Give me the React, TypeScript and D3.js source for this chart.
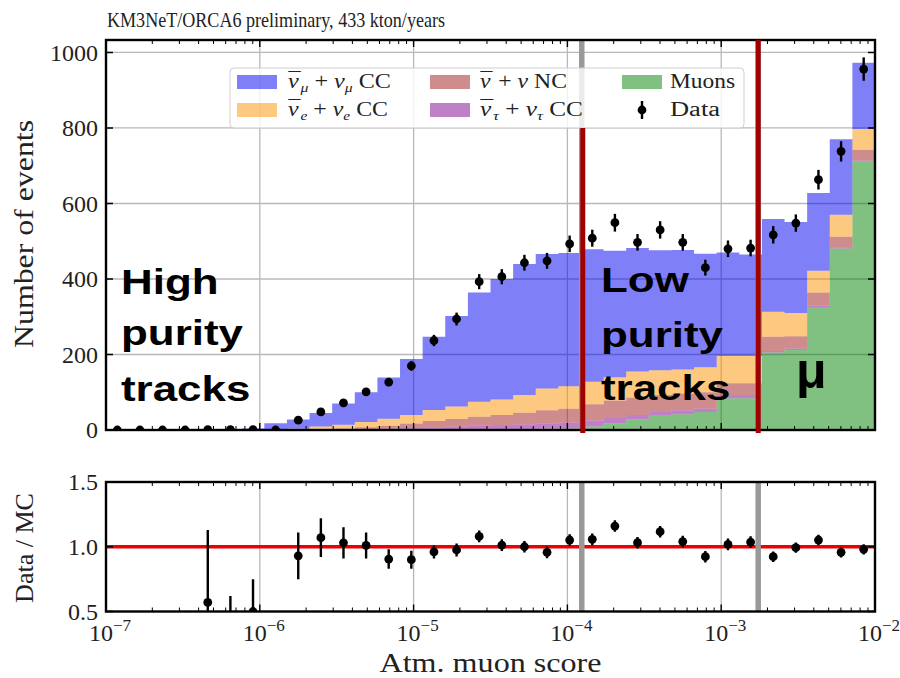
import React, { useEffect, useRef } from "react";
import * as d3 from "d3";

// 34 log-spaced bins of the atm. muon score between 1e-7 and 1e-2
const scoreMin = 1e-7;
const scoreMax = 1e-2;
const nBins = 34;

// MC expectation per bin, one array per component (stacked bottom -> top)
const muons = [0, 0, 0, 0, 0, 0, 0, 0, 0, 0, 0, 0, 0, 0, 0, 0, 0, 1, 2, 3, 4, 9, 18, 28, 38, 42, 48, 84, 84, 205, 212, 326, 481, 711];
const nutauCC = [0, 0, 0, 0, 0, 0, 0.05, 0.1, 0.3, 0.5, 1, 2, 3, 5, 7, 9, 11, 12, 13, 14, 16, 16, 14, 12, 10, 10, 9, 9, 9, 4, 4, 4, 3, 3];
const nuNC = [0, 0, 0, 0, 0, 0.05, 0.05, 0.2, 0.7, 1.5, 3, 5, 8, 12, 17, 20, 24, 27, 31, 35, 36, 43, 46, 46, 45, 45, 43, 31, 31, 38, 32, 34, 28, 28];
const nueCC = [0, 0, 0, 0, 0.1, 0.15, 0.4, 1.2, 2, 7, 10, 14, 19, 23, 29, 33, 40, 41, 47, 58, 60, 60, 62, 69, 65, 63, 66, 72, 72, 66, 62, 58, 58, 55];
const numuCC = [0.3, 0.4, 0.5, 0.8, 1.65, 2.3, 3.5, 16.5, 25, 36, 56, 79, 109, 148, 194, 240, 289, 319, 347, 356, 353, 351, 335, 327, 318, 317, 301, 274, 269, 246, 241, 206, 200, 176];

// observed events
const dataCounts = [0, 0, 0, 0, 1, 1, 1, 0, 26, 48, 72, 101, 127, 170, 237, 294, 393, 406, 443, 448, 493, 508, 549, 497, 530, 497, 430, 480, 482, 517, 548, 663, 738, 956];
const dataErrors = [0, 0, 0, 0, 1, 1, 1, 0, 5, 7, 8.5, 10, 11, 13, 15, 17, 20, 20, 21, 21, 22, 22.5, 23.5, 22, 23, 22, 21, 22, 22, 23, 23, 26, 27, 31];

// data / MC
const ratioValues = [null, null, null, null, 0.57, 0.4, 0.5, null, 0.93, 1.07, 1.03, 1.01, 0.905, 0.9, 0.96, 0.975, 1.08, 1.013, 1.0, 0.957, 1.052, 1.057, 1.16, 1.031, 1.116, 1.04, 0.923, 1.018, 1.036, 0.923, 0.993, 1.052, 0.957, 0.98];
const ratioErrors = [0, 0, 0, 0, 0.56, 0.22, 0.25, 0, 0.18, 0.15, 0.12, 0.1, 0.075, 0.07, 0.05, 0.05, 0.045, 0.045, 0.045, 0.045, 0.045, 0.045, 0.045, 0.045, 0.045, 0.045, 0.045, 0.045, 0.045, 0.04, 0.04, 0.04, 0.04, 0.04];

// cut values (grey lines) and tick values
const cutValues = [1.24e-4, 1.74e-3];
const xDecades = [-7, -6, -5, -4, -3, -2];
const yTicksTop = [0, 200, 400, 600, 800, 1000];
const yTicksRatio = [0.5, 1.0, 1.5];

const serif = "'Liberation Serif', 'Times New Roman', serif";
const sans = "'Liberation Sans', Arial, sans-serif";

export default function App() {
  const ref = useRef<SVGSVGElement>(null);

  useEffect(() => {
    const svg = d3.select(ref.current);
    svg.selectAll("*").remove();

    const left = 106, right = 875;
    const top = 40, bottom = 430;
    const rTop = 482, rBottom = 611.5;

    const x = d3.scaleLog().domain([scoreMin, scoreMax]).range([left, right]);
    const y = d3.scaleLinear().domain([0, 1033]).range([bottom, top]);
    const yr = d3.scaleLinear().domain([0.5, 1.5]).range([rBottom, rTop]);

    const edges = d3.range(nBins + 1).map(i => scoreMin * Math.pow(scoreMax / scoreMin, i / nBins));
    const centers = d3.range(nBins).map(i => Math.sqrt(edges[i] * edges[i + 1]));

    const defs = svg.append("defs");
    defs.append("clipPath").attr("id", "clipTop").append("rect")
      .attr("x", left).attr("y", top).attr("width", right - left).attr("height", bottom - top);
    defs.append("clipPath").attr("id", "clipRatio").append("rect")
      .attr("x", left).attr("y", rTop).attr("width", right - left).attr("height", rBottom - rTop);

    const minorTicks: number[] = [];
    xDecades.slice(0, -1).forEach(e => {
      for (let k = 2; k <= 9; k++) minorTicks.push(k * Math.pow(10, e));
    });
    const majorTicks = xDecades.map(e => Math.pow(10, e));

    // ---------- top panel ----------
    const gTop = svg.append("g");

    // grid
    gTop.selectAll(".vgrid").data(majorTicks.slice(1, -1)).join("line")
      .attr("x1", d => x(d)).attr("x2", d => x(d)).attr("y1", top).attr("y2", bottom)
      .attr("stroke", "#b8b8b8").attr("stroke-width", 1.3);
    gTop.selectAll(".hgrid").data(yTicksTop.slice(1)).join("line")
      .attr("x1", left).attr("x2", right).attr("y1", d => y(d)).attr("y2", d => y(d))
      .attr("stroke", "#b8b8b8").attr("stroke-width", 1.3);

    // stacked MC
    const keys = ["muons", "nutau", "nc", "nue", "numu"];
    const colors: Record<string, string> = {
      muons: "#018101", nutau: "#810191", nc: "#9f1919", nue: "#fb9100", numu: "#0000ef",
    };
    const rows = d3.range(nBins).map(i => ({
      muons: muons[i], nutau: nutauCC[i], nc: nuNC[i], nue: nueCC[i], numu: numuCC[i],
    }));
    const series = d3.stack<any>().keys(keys)(rows);
    const area = d3.area<any>()
      .curve(d3.curveStepAfter)
      .x(d => x(d.e))
      .y0(d => y(d.s[0]))
      .y1(d => y(d.s[1]));
    const gStack = gTop.append("g").attr("clip-path", "url(#clipTop)");
    series.forEach(s => {
      const pts = d3.range(nBins + 1).map(i => ({ e: edges[i], s: s[Math.min(i, nBins - 1)] }));
      gStack.append("path").attr("d", area(pts) as string)
        .attr("fill", colors[s.key]).attr("fill-opacity", 0.5);
    });

    // grey cut lines
    gTop.selectAll(".cut").data(cutValues).join("line")
      .attr("x1", d => x(d)).attr("x2", d => x(d)).attr("y1", top).attr("y2", bottom)
      .attr("stroke", "#999").attr("stroke-width", 5.5);

    // data points
    const gData = gTop.append("g").attr("clip-path", "url(#clipTop)");
    gData.selectAll(".err").data(d3.range(nBins)).join("line")
      .attr("x1", i => x(centers[i])).attr("x2", i => x(centers[i]))
      .attr("y1", i => y(dataCounts[i] - dataErrors[i])).attr("y2", i => y(dataCounts[i] + dataErrors[i]))
      .attr("stroke", "#000").attr("stroke-width", 2.4);
    gData.selectAll(".pt").data(d3.range(nBins)).join("circle")
      .attr("cx", i => x(centers[i])).attr("cy", i => y(dataCounts[i]))
      .attr("r", 4.4).attr("fill", "#000");

    // legend
    const lg = gTop.append("g");
    lg.append("rect").attr("x", 230).attr("y", 68).attr("width", 514).attr("height", 60).attr("rx", 4)
      .attr("fill", "#fff").attr("fill-opacity", 0.8).attr("stroke", "#cfcfcf").attr("stroke-width", 1);

    // legend labels: "b" = nu with a bar, "i" = italic, "sub" = italic subscript, "r" = roman
    const mathText = (xx: number, yy: number, parts: [string, string][], len: number) => {
      const t = lg.append("text").attr("x", xx).attr("y", yy)
        .attr("font-family", serif).attr("font-size", 20).attr("fill", "#222")
        .attr("textLength", len).attr("lengthAdjust", "spacingAndGlyphs");
      let shift = 0;
      parts.forEach(([str, st]) => {
        const sp = t.append("tspan").text(str);
        if (st === "i" || st === "b" || st === "sub") sp.attr("font-style", "italic");
        if (st === "sub") {
          sp.attr("font-size", 13).attr("dy", 4 - shift);
          shift = 4;
        } else if (shift !== 0) {
          sp.attr("dy", -shift);
          shift = 0;
        }
        if (st === "b") {
          // bar over the nu
          t.append("tspan").attr("dx", -8.5).attr("dy", -1).attr("font-style", "normal").text("\u00AF");
          shift -= 1;
          t.append("tspan").attr("dx", 2).text("");
        }
      });
    };
    const legendItems = [
      { key: "numu", px: 237, py: 82, tx: 288, len: 103, parts: [["ν", "b"], ["μ", "sub"], [" + ", "r"], ["ν", "i"], ["μ", "sub"], [" CC", "r"]] },
      { key: "nue", px: 237, py: 110, tx: 288, len: 100, parts: [["ν", "b"], ["e", "sub"], [" + ", "r"], ["ν", "i"], ["e", "sub"], [" CC", "r"]] },
      { key: "nc", px: 430, py: 82, tx: 480, len: 87, parts: [["ν", "b"], [" + ", "r"], ["ν", "i"], [" NC", "r"]] },
      { key: "nutau", px: 430, py: 110, tx: 480, len: 103, parts: [["ν", "b"], ["τ", "sub"], [" + ", "r"], ["ν", "i"], ["τ", "sub"], [" CC", "r"]] },
      { key: "muons", px: 622, py: 82, tx: 670, len: 65, parts: [["Muons", "r"]] },
    ];
    legendItems.forEach(it => {
      lg.append("rect").attr("x", it.px).attr("y", it.py - 7).attr("width", 40).attr("height", 14)
        .attr("fill", colors[it.key]).attr("fill-opacity", 0.5);
      mathText(it.tx, it.py + 6, it.parts as [string, string][], it.len);
    });
    lg.append("line").attr("x1", 642).attr("x2", 642).attr("y1", 101).attr("y2", 119)
      .attr("stroke", "#000").attr("stroke-width", 2.4);
    lg.append("circle").attr("cx", 642).attr("cy", 110).attr("r", 4.4).attr("fill", "#000");
    mathText(670, 116, [["Data", "r"]], 50);

    // ---------- ratio panel ----------
    const gR = svg.append("g");
    gR.selectAll(".vgrid").data(majorTicks.slice(1, -1)).join("line")
      .attr("x1", d => x(d)).attr("x2", d => x(d)).attr("y1", rTop).attr("y2", rBottom)
      .attr("stroke", "#b8b8b8").attr("stroke-width", 1.3);
    gR.append("line").attr("x1", left).attr("x2", right).attr("y1", yr(1)).attr("y2", yr(1))
      .attr("stroke", "#ee0000").attr("stroke-width", 3.5);
    gR.selectAll(".cut").data(cutValues).join("line")
      .attr("x1", d => x(d)).attr("x2", d => x(d)).attr("y1", rTop).attr("y2", rBottom)
      .attr("stroke", "#999").attr("stroke-width", 5.5);
    const rIdx = d3.range(nBins).filter(i => ratioValues[i] !== null);
    const gRD = gR.append("g").attr("clip-path", "url(#clipRatio)");
    gRD.selectAll(".err").data(rIdx).join("line")
      .attr("x1", i => x(centers[i])).attr("x2", i => x(centers[i]))
      .attr("y1", i => yr((ratioValues[i] as number) - ratioErrors[i]))
      .attr("y2", i => yr((ratioValues[i] as number) + ratioErrors[i]))
      .attr("stroke", "#000").attr("stroke-width", 2.4);
    gRD.selectAll(".pt").data(rIdx).join("circle")
      .attr("cx", i => x(centers[i])).attr("cy", i => yr(ratioValues[i] as number))
      .attr("r", 4.4).attr("fill", "#000");

    // ---------- frames and ticks ----------
    const drawFrame = (g: any, y0: number, y1: number, yTicks: number[], ys: (v: number) => number) => {
      g.selectAll(".mj").data(majorTicks).join("path")
        .attr("d", (d: number) => `M${x(d)},${y1}v-7M${x(d)},${y0}v7`)
        .attr("stroke", "#000").attr("stroke-width", 1.4);
      g.selectAll(".mn").data(minorTicks).join("path")
        .attr("d", (d: number) => `M${x(d)},${y1}v-4M${x(d)},${y0}v4`)
        .attr("stroke", "#000").attr("stroke-width", 1);
      g.selectAll(".yt").data(yTicks).join("path")
        .attr("d", (d: number) => `M${left},${ys(d)}h7M${right},${ys(d)}h-7`)
        .attr("stroke", "#000").attr("stroke-width", 1.4);
      g.append("rect").attr("x", left).attr("y", y0).attr("width", right - left).attr("height", y1 - y0)
        .attr("fill", "none").attr("stroke", "#000").attr("stroke-width", 2.4);
    };
    drawFrame(svg.append("g"), top, bottom, yTicksTop, y);
    drawFrame(svg.append("g"), rTop, rBottom, yTicksRatio, yr);

    // tick labels
    svg.append("g").selectAll("text").data(yTicksTop).join("text")
      .attr("x", 98).attr("y", d => y(d)).attr("dy", "0.35em").attr("text-anchor", "end")
      .attr("font-family", serif).attr("font-size", 24).attr("fill", "#222")
      .text(d => String(d));
    svg.append("g").selectAll("text").data(yTicksRatio).join("text")
      .attr("x", 98).attr("y", d => yr(d)).attr("dy", "0.35em").attr("text-anchor", "end")
      .attr("font-family", serif).attr("font-size", 24).attr("fill", "#222")
      .text(d => d.toFixed(1));
    const xl = svg.append("g").selectAll("text").data(xDecades).join("text")
      .attr("x", d => x(Math.pow(10, d)) + 4).attr("y", 641).attr("text-anchor", "middle")
      .attr("font-family", serif).attr("font-size", 24).attr("fill", "#222");
    xl.append("tspan").text("10");
    xl.append("tspan").attr("dy", -10).attr("font-size", 17).text(d => "\u2212" + Math.abs(d));

    // titles and axis labels
    svg.append("text").attr("x", 107).attr("y", 27)
      .attr("font-family", serif).attr("font-size", 21).attr("fill", "#222")
      .attr("textLength", 338).attr("lengthAdjust", "spacingAndGlyphs")
      .text("KM3NeT/ORCA6 preliminary, 433 kton/years");
    svg.append("text").attr("transform", "translate(33,234) rotate(-90)").attr("text-anchor", "middle")
      .attr("font-family", serif).attr("font-size", 28).attr("fill", "#222")
      .attr("textLength", 228).attr("lengthAdjust", "spacingAndGlyphs")
      .text("Number of events");
    svg.append("text").attr("transform", "translate(33,548) rotate(-90)").attr("text-anchor", "middle")
      .attr("font-family", serif).attr("font-size", 26).attr("fill", "#222")
      .text("Data / MC");
    svg.append("text").attr("x", (left + right) / 2).attr("y", 672).attr("text-anchor", "middle")
      .attr("font-family", serif).attr("font-size", 28).attr("fill", "#222")
      .attr("textLength", 222).attr("lengthAdjust", "spacingAndGlyphs")
      .text("Atm. muon score");

    // ---------- annotations ----------
    const ann = svg.append("g");
    ann.append("line").attr("x1", x(cutValues[0]) + 1).attr("x2", x(cutValues[0]) + 1)
      .attr("y1", 128).attr("y2", 433).attr("stroke", "#a00000").attr("stroke-width", 5);
    ann.append("line").attr("x1", x(cutValues[1])).attr("x2", x(cutValues[1]))
      .attr("y1", top).attr("y2", 433).attr("stroke", "#a00000").attr("stroke-width", 5);
    const bigText = (xx: number, yy: number, str: string) => {
      ann.append("text").attr("transform", `translate(${xx},${yy}) scale(1.22,1)`)
        .attr("font-family", sans).attr("font-weight", "bold").attr("font-size", 36).attr("fill", "#000")
        .text(str);
    };
    bigText(121, 294, "High");
    bigText(121, 345, "purity");
    bigText(121, 401, "tracks");
    bigText(601, 292, "Low");
    bigText(601, 347, "purity");
    bigText(601, 400, "tracks");
    ann.append("text").attr("x", 796).attr("y", 388)
      .attr("font-family", sans).attr("font-weight", "bold").attr("font-size", 50).attr("fill", "#000")
      .text("μ");
  }, []);

  return (
    <svg ref={ref} width={900} height={678}
      style={{ position: "absolute", left: 0, top: 0, background: "#fff" }} />
  );
}
